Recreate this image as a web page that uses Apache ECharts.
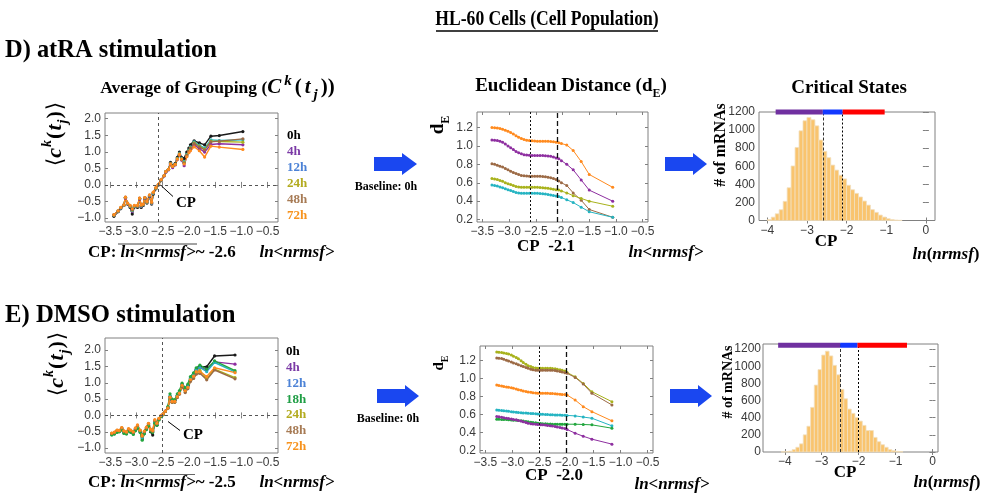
<!DOCTYPE html>
<html><head><meta charset="utf-8">
<script src="https://cdn.jsdelivr.net/npm/echarts@6/dist/echarts.min.js"></script>
<style>html,body{margin:0;padding:0;background:#fff}#c{width:981px;height:495px}</style>
</head><body><div id="c"></div>
<script>
// ================= DATA =================
// D) atRA - Average of grouping
const xAvgD = [-3.43,-3.35,-3.30,-3.24,-3.21,-3.17,-3.12,-3.08,-3.04,-2.98,-2.94,-2.91,-2.87,-2.84,-2.80,-2.75,-2.71,-2.68,-2.63,-2.58,-2.53,-2.47,-2.44,-2.39,-2.35,-2.31,-2.26,-2.22,-2.18,-2.14,-2.09,-2.04,-2.00,-1.97,-1.90,-1.80,-1.70,-1.58,-1.42,-0.97];
const avgD_0h  = [-0.95,-0.81,-0.72,-0.62,-0.38,-0.58,-0.68,-0.88,-0.67,-0.68,-0.42,-0.68,-0.62,-0.40,-0.55,-0.35,-0.58,-0.28,-0.12,0.00,0.13,0.28,0.40,0.47,0.68,0.58,0.65,0.83,0.99,0.83,0.80,0.99,1.11,1.21,1.33,1.27,1.21,1.47,1.49,1.61];
const avgD_4h  = [-0.92,-0.80,-0.70,-0.62,-0.40,-0.57,-0.66,-0.80,-0.66,-0.65,-0.43,-0.65,-0.60,-0.41,-0.53,-0.34,-0.56,-0.26,-0.11,0.01,0.14,0.27,0.38,0.45,0.62,0.52,0.60,0.77,0.92,0.75,0.58,0.86,0.99,1.07,1.20,1.10,0.99,1.22,1.24,1.21];
const avgD_12h = [-0.91,-0.79,-0.70,-0.61,-0.38,-0.56,-0.65,-0.78,-0.65,-0.64,-0.41,-0.64,-0.60,-0.39,-0.52,-0.33,-0.55,-0.25,-0.10,0.01,0.15,0.28,0.40,0.47,0.65,0.56,0.63,0.80,0.95,0.80,0.70,0.92,1.05,1.15,1.30,1.20,1.11,1.36,1.34,1.36];
const avgD_24h = [-0.91,-0.79,-0.69,-0.61,-0.38,-0.56,-0.64,-0.76,-0.64,-0.64,-0.41,-0.63,-0.59,-0.39,-0.52,-0.32,-0.54,-0.24,-0.10,0.01,0.15,0.28,0.40,0.47,0.64,0.56,0.62,0.79,0.94,0.78,0.67,0.90,1.03,1.12,1.27,1.17,1.08,1.32,1.31,1.29];
const avgD_48h = [-0.90,-0.78,-0.69,-0.60,-0.37,-0.55,-0.63,-0.75,-0.63,-0.63,-0.40,-0.62,-0.58,-0.38,-0.51,-0.31,-0.53,-0.23,-0.09,0.02,0.15,0.28,0.40,0.47,0.64,0.56,0.62,0.78,0.93,0.77,0.66,0.89,1.02,1.11,1.25,1.15,1.06,1.30,1.32,1.39];
const avgD_72h = [-0.90,-0.78,-0.68,-0.60,-0.37,-0.55,-0.62,-0.72,-0.62,-0.62,-0.40,-0.60,-0.58,-0.38,-0.50,-0.30,-0.52,-0.22,-0.08,0.02,0.16,0.28,0.40,0.47,0.63,0.56,0.62,0.78,0.92,0.78,0.63,0.85,0.97,1.03,1.15,1.03,0.84,1.17,1.14,1.07];
const cpAvgD = -2.58;

// D) atRA - Euclidean distance (baseline 0h)
const xDistD = [-3.32,-3.27,-3.22,-3.17,-3.12,-3.07,-3.02,-2.97,-2.92,-2.87,-2.82,-2.77,-2.72,-2.67,-2.62,-2.57,-2.52,-2.47,-2.42,-2.37,-2.32,-2.27,-2.22,-2.17,-2.12,-2.07,-2.02,-1.92,-1.80,-1.65,-1.50,-1.06];
const distD_4h  = [1.065,1.062,1.058,1.05,1.04,1.02,1.00,0.98,0.96,0.94,0.925,0.915,0.905,0.90,0.898,0.897,0.896,0.895,0.895,0.895,0.893,0.89,0.887,0.88,0.87,0.86,0.84,0.80,0.74,0.63,0.52,0.40];
const distD_12h = [0.575,0.57,0.565,0.555,0.545,0.535,0.525,0.515,0.505,0.495,0.49,0.487,0.485,0.485,0.485,0.485,0.485,0.485,0.483,0.48,0.477,0.473,0.468,0.463,0.457,0.45,0.44,0.415,0.385,0.335,0.285,0.225];
const distD_24h = [0.645,0.64,0.635,0.625,0.615,0.60,0.59,0.58,0.57,0.56,0.555,0.552,0.55,0.55,0.55,0.55,0.55,0.55,0.548,0.546,0.543,0.54,0.535,0.53,0.525,0.52,0.51,0.49,0.46,0.43,0.40,0.345];
const distD_48h = [0.805,0.80,0.79,0.78,0.77,0.755,0.74,0.725,0.71,0.70,0.69,0.68,0.675,0.672,0.67,0.67,0.67,0.67,0.67,0.668,0.665,0.66,0.655,0.645,0.635,0.62,0.60,0.57,0.49,0.41,0.31,0.225];
const distD_72h = [1.20,1.198,1.195,1.19,1.18,1.17,1.16,1.145,1.13,1.11,1.095,1.08,1.07,1.062,1.058,1.055,1.052,1.05,1.05,1.05,1.05,1.05,1.048,1.045,1.04,1.035,1.025,1.01,0.95,0.83,0.69,0.55];
const cpDistD = [-2.6, -2.1];

// D) atRA - histogram of ln(nrmsf)
const binWidth = 0.1;
const histDBins   = [-4.0,-3.9,-3.8,-3.7,-3.6,-3.5,-3.4,-3.3,-3.2,-3.1,-3.0,-2.9,-2.8,-2.7,-2.6,-2.5,-2.4,-2.3,-2.2,-2.1,-2.0,-1.9,-1.8,-1.7,-1.6,-1.5,-1.4,-1.3,-1.2,-1.1,-1.0,-0.9,-0.8,-0.7];
const histDCounts = [10,37,74,119,212,362,603,808,992,1103,1140,1114,1047,890,765,695,613,557,501,460,390,340,300,260,215,170,120,90,60,38,20,10,5,2];
const statesD = [-3.79, -2.6, -2.1, -1.04];
const statesDLevel = 1200;

// E) DMSO - Average of grouping
const xAvgE = [-3.47,-3.42,-3.37,-3.33,-3.28,-3.24,-3.19,-3.15,-3.11,-3.06,-3.02,-2.98,-2.93,-2.89,-2.85,-2.81,-2.77,-2.73,-2.69,-2.65,-2.61,-2.57,-2.53,-2.49,-2.45,-2.40,-2.36,-2.32,-2.27,-2.22,-2.18,-2.13,-2.07,-2.02,-1.97,-1.91,-1.86,-1.79,-1.66,-1.51,-1.12];
const avgE_0h  = [-0.58,-0.56,-0.50,-0.50,-0.42,-0.52,-0.55,-0.46,-0.50,-0.56,-0.45,-0.38,-0.50,-0.72,-0.55,-0.42,-0.30,-0.50,-0.60,-0.20,-0.30,-0.12,-0.03,0.03,0.12,0.25,0.58,0.48,0.46,0.62,0.72,0.96,0.82,0.92,1.15,1.28,1.42,1.49,1.49,1.82,1.85];
const avgE_4h  = [-0.56,-0.54,-0.48,-0.48,-0.40,-0.50,-0.53,-0.44,-0.48,-0.54,-0.42,-0.35,-0.48,-0.66,-0.52,-0.40,-0.28,-0.46,-0.50,-0.20,-0.27,-0.11,-0.02,0.04,0.13,0.24,0.56,0.42,0.44,0.60,0.70,0.94,0.78,0.88,1.12,1.24,1.38,1.46,1.40,1.64,1.57];
const avgE_12h = [-0.57,-0.55,-0.49,-0.49,-0.42,-0.51,-0.54,-0.45,-0.49,-0.55,-0.44,-0.37,-0.49,-0.68,-0.53,-0.41,-0.29,-0.46,-0.50,-0.21,-0.28,-0.12,-0.03,0.03,0.12,0.25,0.60,0.47,0.45,0.62,0.72,0.95,0.80,0.90,1.14,1.25,1.40,1.47,1.34,1.62,1.33];
const avgE_18h = [-0.60,-0.57,-0.52,-0.50,-0.45,-0.55,-0.57,-0.48,-0.52,-0.58,-0.47,-0.40,-0.52,-0.76,-0.56,-0.43,-0.32,-0.48,-0.52,-0.24,-0.30,-0.14,-0.04,0.02,0.12,0.27,0.66,0.50,0.48,0.66,0.76,0.99,0.84,0.96,1.19,1.30,1.46,1.54,1.42,1.67,1.37];
const avgE_24h = [-0.55,-0.52,-0.46,-0.47,-0.38,-0.48,-0.52,-0.42,-0.46,-0.52,-0.40,-0.32,-0.46,-0.64,-0.50,-0.38,-0.26,-0.44,-0.48,-0.16,-0.25,-0.10,-0.01,0.04,0.12,0.22,0.55,0.40,0.40,0.56,0.66,0.90,0.72,0.84,1.06,1.15,1.30,1.38,1.12,1.42,1.16];
const avgE_48h = [-0.55,-0.52,-0.46,-0.46,-0.38,-0.48,-0.51,-0.42,-0.46,-0.52,-0.40,-0.31,-0.46,-0.63,-0.50,-0.38,-0.25,-0.44,-0.48,-0.15,-0.25,-0.10,-0.01,0.04,0.12,0.22,0.54,0.40,0.40,0.55,0.65,0.88,0.70,0.82,1.04,1.13,1.26,1.29,1.09,1.39,1.12];
const avgE_72h = [-0.54,-0.51,-0.45,-0.46,-0.37,-0.47,-0.50,-0.40,-0.45,-0.50,-0.38,-0.29,-0.45,-0.62,-0.48,-0.36,-0.24,-0.42,-0.46,-0.13,-0.24,-0.09,0.00,0.05,0.13,0.23,0.56,0.43,0.43,0.58,0.68,0.92,0.76,0.86,1.10,1.20,1.34,1.34,1.19,1.46,1.31];
const cpAvgE = -2.5;

// E) DMSO - Euclidean distance (baseline 0h)
const xDistE = [-3.29,-3.25,-3.20,-3.16,-3.11,-3.07,-3.02,-2.98,-2.93,-2.89,-2.84,-2.80,-2.75,-2.71,-2.66,-2.62,-2.57,-2.53,-2.48,-2.44,-2.39,-2.35,-2.30,-2.26,-2.21,-2.17,-2.12,-2.08,-2.03,-1.99,-1.84,-1.69,-1.53,-1.16];
const distE_4h  = [0.578,0.575,0.57,0.565,0.56,0.555,0.55,0.545,0.541,0.535,0.528,0.52,0.512,0.505,0.498,0.495,0.493,0.49,0.488,0.486,0.484,0.48,0.476,0.472,0.468,0.463,0.458,0.452,0.445,0.435,0.394,0.36,0.328,0.273];
const distE_12h = [0.651,0.648,0.645,0.642,0.638,0.635,0.632,0.629,0.626,0.623,0.62,0.618,0.616,0.614,0.612,0.61,0.608,0.606,0.604,0.602,0.60,0.60,0.598,0.597,0.596,0.595,0.594,0.593,0.592,0.59,0.585,0.572,0.559,0.475];
const distE_18h = [0.548,0.547,0.546,0.545,0.544,0.542,0.54,0.538,0.536,0.534,0.532,0.528,0.524,0.52,0.516,0.512,0.508,0.505,0.502,0.499,0.497,0.495,0.494,0.493,0.493,0.493,0.493,0.493,0.493,0.493,0.493,0.49,0.486,0.449];
const distE_24h = [1.29,1.288,1.285,1.28,1.275,1.268,1.258,1.245,1.23,1.215,1.195,1.175,1.155,1.14,1.13,1.12,1.115,1.112,1.11,1.11,1.11,1.11,1.11,1.108,1.105,1.10,1.095,1.09,1.08,1.065,1.017,0.944,0.852,0.742];
const distE_48h = [1.225,1.222,1.218,1.21,1.20,1.19,1.18,1.17,1.16,1.15,1.14,1.13,1.12,1.11,1.10,1.095,1.09,1.09,1.09,1.09,1.09,1.09,1.09,1.088,1.085,1.08,1.075,1.07,1.062,1.055,1.01,0.936,0.834,0.706];
const distE_72h = [0.925,0.92,0.915,0.91,0.905,0.90,0.895,0.89,0.882,0.875,0.868,0.86,0.855,0.85,0.845,0.841,0.838,0.836,0.835,0.835,0.835,0.834,0.833,0.832,0.83,0.828,0.825,0.822,0.82,0.816,0.76,0.687,0.632,0.53];
const cpDistE = [-2.5, -2.0];

// E) DMSO - histogram
const histEBins   = [-4.1,-4.0,-3.9,-3.8,-3.7,-3.6,-3.5,-3.4,-3.3,-3.2,-3.1,-3.0,-2.9,-2.8,-2.7,-2.6,-2.5,-2.4,-2.3,-2.2,-2.1,-2.0,-1.9,-1.8,-1.7,-1.6,-1.5,-1.4,-1.3,-1.2,-1.1,-1.0,-0.9];
const histECounts = [2,4,10,28,55,95,200,300,520,780,960,1130,1175,1120,1010,900,730,620,500,450,400,360,310,250,250,170,120,85,55,28,15,7,3];
const statesE = [-4.18, -2.5, -2.03, -0.69];
const statesELevel = 1245;

// tick labels
const avgXTicks  = [-3.5,-3.0,-2.5,-2.0,-1.5,-1.0,-0.5];
const avgYTicks  = [-1.0,-0.5,0,0.5,1.0,1.5,2.0];
const distYTicks = [0.2,0.4,0.6,0.8,1.0,1.2];
const histXTicks = [-4,-3,-2,-1,0];
const histYTicks = [0,200,400,600,800,1000,1200];
const hoursD = ['0h','4h','12h','24h','48h','72h'];
const hoursE = ['0h','4h','12h','18h','24h','48h','72h'];

// ================= STYLE =================
const SANS = "'Liberation Sans', Arial, sans-serif";
const SERIF = "'Liberation Serif', 'Times New Roman', serif";
const FRAME = '#808080';
const lineColor = {'0h':'#1a1a1a','4h':'#8e2fa0','12h':'#25b4c2','18h':'#22a63e','24h':'#a8b21c','48h':'#9c6a45','72h':'#ff8a1e'};
const labelColor = {'0h':'#000000','4h':'#7b3aa6','12h':'#4c82d6','18h':'#1f9e45','24h':'#b3ab1f','48h':'#a77b55','72h':'#f7931e'};
const minus = s => s.replace('-', '\u2212');
const f1 = v => minus(Number(v).toFixed(1));
const f0 = v => minus(String(Math.round(Number(v))));

const grids = [], xAxes = [], yAxes = [], series = [];
function addPanel(box, xr, yr, xt, yt, xf, yf, yMargin) {
  const gi = grids.length;
  grids.push({left: box[0], top: box[1], width: box[2], height: box[3], show: true,
    borderColor: FRAME, borderWidth: 1, backgroundColor: '#fff'});
  const tick = vals => ({show: true, inside: true, length: 3, customValues: vals, lineStyle: {color: FRAME, width: 1}});
  const lab = (vals, f, m) => ({show: true, customValues: vals, formatter: f, color: '#3a3a3a', fontFamily: SANS, fontSize: 12, margin: m});
  xAxes.push({type: 'value', gridIndex: gi, min: xr[0], max: xr[1], position: 'bottom', axisLine: {show: false},
    axisTick: tick(xt), axisLabel: lab(xt, xf, 4), splitLine: {show: false}});
  xAxes.push({type: 'value', gridIndex: gi, min: xr[0], max: xr[1], position: 'top', axisLine: {show: false},
    axisTick: tick(xt), axisLabel: {show: false}, splitLine: {show: false}});
  yAxes.push({type: 'value', gridIndex: gi, min: yr[0], max: yr[1], position: 'left', axisLine: {show: false},
    axisTick: tick(yt), axisLabel: lab(yt, yf, yMargin), splitLine: {show: false}});
  yAxes.push({type: 'value', gridIndex: gi, min: yr[0], max: yr[1], position: 'right', axisLine: {show: false},
    axisTick: tick(yt), axisLabel: {show: false}, splitLine: {show: false}});
  return gi;
}
function lineSer(gi, name, xs, ys, w, sym) {
  const c = lineColor[name];
  return {type: 'line', name, xAxisIndex: 2*gi, yAxisIndex: 2*gi, data: xs.map((x, i) => [x, ys[i]]),
    symbol: 'circle', symbolSize: sym, showSymbol: true, lineStyle: {color: c, width: w}, itemStyle: {color: c},
    silent: true, animation: false};
}
function vmark(lines) {
  return {silent: true, symbol: ['none','none'], label: {show: false}, animation: false, data: lines};
}
function histSer(gi, bins, counts) {
  return {type: 'custom', coordinateSystem: 'cartesian2d', xAxisIndex: 2*gi, yAxisIndex: 2*gi, silent: true, animation: false,
    data: bins.map((b, i) => [b, b + binWidth, counts[i]]),
    encode: {x: [0, 1], y: 2},
    renderItem: function (params, api) {
      const p0 = api.coord([api.value(0), 0]);
      const p1 = api.coord([api.value(1), api.value(2)]);
      return {type: 'rect', shape: {x: p0[0], y: p1[1], width: p1[0] - p0[0], height: p0[1] - p1[1]},
        style: {fill: '#f9c46e', stroke: '#f1dfbf', lineWidth: 0.8}};
    }};
}
function stateBars(gi, bounds, level) {
  const cols = ['#7030a0', '#1238ff', '#ff0000'];
  return cols.map((c, k) => ({type: 'line', xAxisIndex: 2*gi, yAxisIndex: 2*gi, clip: false, silent: true, animation: false,
    data: [[bounds[k], level], [bounds[k+1], level]], symbol: 'none', lineStyle: {color: c, width: 5, cap: 'butt'}, z: 10}));
}

// ---- panels ----
const gA = addPanel([105, 113, 173, 109], [-3.6, -0.3], [-1.12, 2.17], avgXTicks, avgYTicks, f1, f1, 4);
const gB = addPanel([477, 112, 171, 110], [-3.6, -0.4], [0.174, 1.368], avgXTicks, distYTicks, f1, f1, 4);
const gC = addPanel([759, 112, 176, 108.5], [-4.21, 0.23], [0, 1200], histXTicks, histYTicks, f0, f0, 4);
const gD = addPanel([105, 338, 173, 115], [-3.6, -0.3], [-1.15, 2.37], avgXTicks, avgYTicks, f1, f1, 4);
const gE = addPanel([480, 346, 173, 107], [-3.6, -0.4], [0.175, 1.357], avgXTicks, distYTicks, f1, f1, 4);
const gF = addPanel([763, 344, 175, 108], [-4.59, 0.15], [0, 1259], histXTicks, histYTicks, f0, f0, 2);

const dashGray = {type: [3, 3], color: '#555', width: 1};
// D avg
const avgDSeries = {'0h': avgD_0h, '4h': avgD_4h, '12h': avgD_12h, '24h': avgD_24h, '48h': avgD_48h, '72h': avgD_72h};
hoursD.forEach((h, k) => {
  const s = lineSer(gA, h, xAvgD, avgDSeries[h], 1.4, 3.2);
  if (k === 0) s.markLine = vmark([{xAxis: cpAvgD, lineStyle: dashGray}, {yAxis: 0, lineStyle: dashGray}]);
  series.push(s);
});
// D dist
const distDSeries = {'72h': distD_72h, '4h': distD_4h, '48h': distD_48h, '24h': distD_24h, '12h': distD_12h};
Object.keys(distDSeries).forEach((h, k) => {
  const s = lineSer(gB, h, xDistD, distDSeries[h], 1, 3);
  if (k === 0) s.markLine = vmark([{xAxis: cpDistD[0], lineStyle: {type: [2, 2], color: '#111', width: 1}},
                                   {xAxis: cpDistD[1], lineStyle: {type: [5, 3], color: '#111', width: 1.3}}]);
  series.push(s);
});
// D hist
const hD = histSer(gC, histDBins, histDCounts);
hD.markLine = vmark([{xAxis: cpDistD[0], lineStyle: {type: [3, 2], color: '#333', width: 1}},
                     {xAxis: cpDistD[1], lineStyle: {type: [2, 2], color: '#000', width: 1}}]);
series.push(hD);
series.push(...stateBars(gC, statesD, statesDLevel));
// E avg
const avgESeries = {'0h': avgE_0h, '4h': avgE_4h, '12h': avgE_12h, '18h': avgE_18h, '24h': avgE_24h, '48h': avgE_48h, '72h': avgE_72h};
hoursE.forEach((h, k) => {
  const s = lineSer(gD, h, xAvgE, avgESeries[h], 1.4, 3.2);
  if (k === 0) s.markLine = vmark([{xAxis: cpAvgE, lineStyle: dashGray}, {yAxis: 0, lineStyle: dashGray}]);
  series.push(s);
});
// E dist
const distESeries = {'24h': distE_24h, '48h': distE_48h, '72h': distE_72h, '12h': distE_12h, '18h': distE_18h, '4h': distE_4h};
Object.keys(distESeries).forEach((h, k) => {
  const s = lineSer(gE, h, xDistE, distESeries[h], 1, 3);
  if (k === 0) s.markLine = vmark([{xAxis: cpDistE[0], lineStyle: {type: [2, 2], color: '#111', width: 1}},
                                   {xAxis: cpDistE[1], lineStyle: {type: [5, 3], color: '#111', width: 1.3}}]);
  series.push(s);
});
// E hist
const hE = histSer(gF, histEBins, histECounts);
hE.markLine = vmark([{xAxis: cpDistE[0], lineStyle: {type: [3, 2], color: '#333', width: 1}},
                     {xAxis: cpDistE[1], lineStyle: {type: [2, 2], color: '#000', width: 1}}]);
series.push(hE);
series.push(...stateBars(gF, statesE, statesELevel));

// ================= TEXT / DECORATION =================
function txt(x, y, text, font, fill, align, vAlign, extra) {
  return Object.assign({type: 'text', x, y, silent: true, z: 100,
    style: {text, font, fill: fill || '#000', align: align || 'left', verticalAlign: vAlign || 'middle',
            textAlign: align || 'left', textVerticalAlign: vAlign || 'middle'}}, extra || {});
}
function rich(x, y, text, richDef, align, extra) {
  const el = txt(x, y, text, 'bold 17px ' + SERIF, '#000', align, 'middle', extra);
  el.style.rich = richDef;
  return el;
}
function ln(x1, y1, x2, y2, w, c) {
  return {type: 'line', silent: true, z: 100, shape: {x1, y1, x2, y2}, style: {stroke: c || '#000', lineWidth: w || 1}};
}
function arrow(x0, xh, xt, yc) {
  return {type: 'polygon', silent: true, z: 100,
    shape: {points: [[x0, yc - 7], [xh, yc - 7], [xh, yc - 11], [xt, yc], [xh, yc + 11], [xh, yc + 7], [x0, yc + 7]]},
    style: {fill: '#1a47f0'}};
}
const tok = (font, padB, padR) => ({font: font, padding: [0, padR || 0, padB, 0], verticalAlign: 'bottom'});
const B17 = 'bold 17px ' + SERIF, BI17 = 'italic bold 17px ' + SERIF;

const g = [];
// main title
g.push(txt(547, 19, 'HL-60 Cells (Cell Population)', 'bold 22px ' + SERIF, '#000', 'center', 'middle', {scaleX: 0.8}));
g.push(ln(436, 31, 658, 31, 1.5));
g.push(txt(5, 50, 'D) atRA stimulation', 'bold 26px ' + SERIF, '#000', 'left', 'middle', {scaleX: 0.94}));
g.push(txt(5, 315, 'E) DMSO stimulation', 'bold 26px ' + SERIF, '#000', 'left', 'middle', {scaleX: 0.95}));

// panel titles
g.push(rich(219, 88, '{t|Average of Grouping (}{m|C}{sup|k}{p|(}{m|t}{sub|j}{p|))}', {
  t: tok('bold 17.5px ' + SERIF, 5), m: tok('italic bold 21px ' + SERIF, 4, 3), p: tok('bold 21px ' + SERIF, 4, 3),
  sup: tok('italic bold 15px ' + SERIF, 14, 3), sub: tok('italic bold 15px ' + SERIF, 0, 3)}, 'center'));
g.push(rich(571, 88, '{t|Euclidean Distance (d}{sub|E}{t|)}', {
  t: tok('bold 19px ' + SERIF, 4), sub: tok('bold 12px ' + SERIF, 0)}, 'center'));
g.push(txt(849, 88, 'Critical States', 'bold 19px ' + SERIF, '#000', 'center', 'middle'));

// y-axis titles (rotated)
const avgYRich = {b: tok('22px DejaVu Sans', 3), m: tok('italic bold 22px ' + SERIF, 4, 1), p: tok('bold 22px ' + SERIF, 4, 1),
  sup: tok('italic bold 14px ' + SERIF, 16, 1), sub: tok('italic bold 14px ' + SERIF, 0, 1)};
const avgYText = '{b|\u27E8}{m|c}{sup|k}{p|(}{m|t}{sub|j}{p|)}{b|\u27E9}';
g.push(rich(55, 134, avgYText, avgYRich, 'center', {rotation: Math.PI / 2}));
g.push(rich(57, 364, avgYText, avgYRich, 'center', {rotation: Math.PI / 2}));
g.push(rich(440, 125, '{t|d}{sub|E}', {t: tok('bold 19px ' + SERIF, 4), sub: tok('bold 12px ' + SERIF, 0)}, 'center', {rotation: Math.PI / 2}));
g.push(rich(441, 363, '{t|d}{sub|E}', {t: tok('bold 15px ' + SERIF, 3), sub: tok('bold 10px ' + SERIF, 0)}, 'center', {rotation: Math.PI / 2}));
g.push(txt(721, 145, '# of mRNAs', 'bold 16px ' + SERIF, '#000', 'center', 'middle', {rotation: Math.PI / 2}));
g.push(txt(728, 382, '# of mRNAs', 'bold 14px ' + SERIF, '#000', 'center', 'middle', {rotation: Math.PI / 2}));

// hour labels
const hourYD = [136, 151.7, 167.7, 183.3, 200, 215.7];
hoursD.forEach((h, k) => g.push(txt(287, hourYD[k], h, 'bold 13px ' + SERIF, labelColor[h], 'left', 'middle')));
const hourYE = [351.7, 367.7, 383.3, 399.3, 415, 431, 446.7];
hoursE.forEach((h, k) => g.push(txt(286, hourYE[k], h, 'bold 13px ' + SERIF, labelColor[h], 'left', 'middle')));

// CP annotations in avg panels
g.push(ln(161.5, 186, 173, 196.5, 1));
g.push(txt(176, 203, 'CP', 'bold 15px ' + SERIF, '#000', 'left', 'middle'));
g.push(ln(168, 421.5, 180, 430.5, 1));
g.push(txt(183, 435, 'CP', 'bold 15px ' + SERIF, '#000', 'left', 'middle'));

// axis captions
const cpRich = {b: {font: B17}, bi: {font: BI17}};
g.push(rich(88, 253, '{b|CP: }{bi|ln<nrmsf>}{b|~ -2.6}', cpRich, 'left'));
g.push(ln(118, 244, 197, 244, 1, '#444'));
g.push(txt(297, 253, 'ln<nrmsf>', BI17, '#000', 'center', 'middle'));
g.push(rich(88, 483, '{b|CP: }{bi|ln<nrmsf>}{b|~ -2.5}', cpRich, 'left'));
g.push(ln(118, 474.5, 195, 474.5, 1, '#666'));
g.push(txt(297, 483, 'ln<nrmsf>', BI17, '#000', 'center', 'middle'));

g.push(txt(546, 247, 'CP  -2.1', B17, '#000', 'center', 'middle'));
g.push(txt(666, 253, 'ln<nrmsf>', BI17, '#000', 'center', 'middle'));
g.push(txt(554, 476, 'CP  -2.0', B17, '#000', 'center', 'middle'));
g.push(txt(672, 485, 'ln<nrmsf>', BI17, '#000', 'center', 'middle'));

const lnRich = {b: {font: B17}, bi: {font: BI17}};
g.push(txt(826, 242, 'CP', B17, '#000', 'center', 'middle'));
g.push(rich(946, 255, '{bi|ln}{b|(}{bi|nrmsf}{b|)}', lnRich, 'center'));
g.push(txt(845, 473, 'CP', B17, '#000', 'center', 'middle'));
g.push(rich(947, 483, '{bi|ln}{b|(}{bi|nrmsf}{b|)}', lnRich, 'center'));

// arrows & baseline note
g.push(arrow(374, 402, 417, 164));
g.push(arrow(665, 693, 707, 164));
g.push(arrow(377, 405, 419, 396));
g.push(arrow(670, 698, 712, 396));
g.push(txt(386, 187, 'Baseline: 0h', 'bold 12px ' + SERIF, '#000', 'center', 'middle'));
g.push(txt(388, 419, 'Baseline: 0h', 'bold 12px ' + SERIF, '#000', 'center', 'middle'));

const chart = echarts.init(document.getElementById('c'), null, {renderer: 'canvas'});
chart.setOption({
  animation: false,
  backgroundColor: '#fff',
  textStyle: {fontFamily: SANS},
  grid: grids, xAxis: xAxes, yAxis: yAxes, series: series,
  graphic: {elements: g}
});
</script></body></html>
